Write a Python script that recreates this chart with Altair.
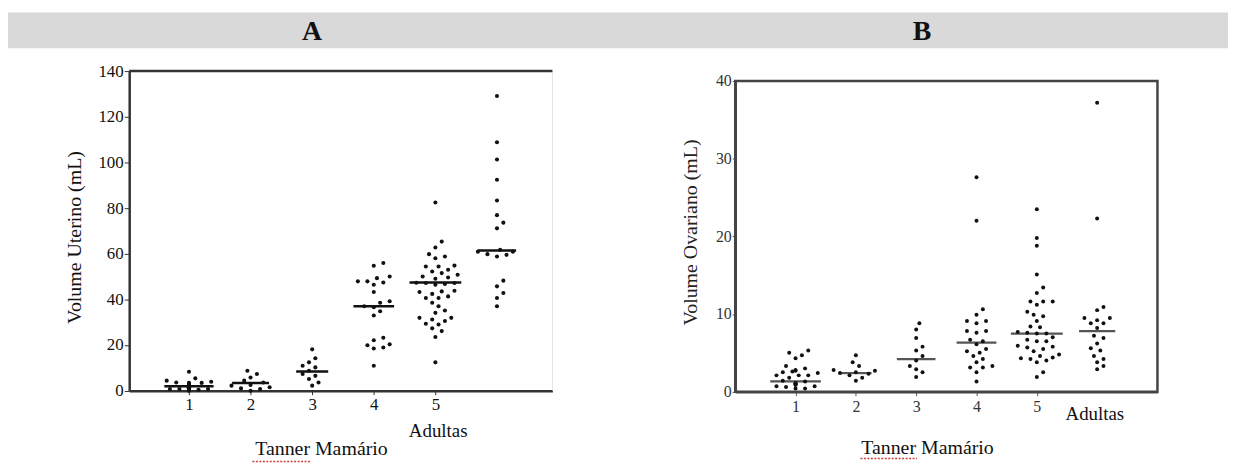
import altair as alt
import pandas as pd

# ---------------- data ----------------
groups = [1, 2, 3, 4, 5, 6]          # 6 = "Adultas"
tick_labels = ["1", "2", "3", "4", "5"]

uterino_g1 = [8.3, 5.4, 4.4, 3.6, 3.9, 3.4, 2.9, 3.4, 2.9, 2.5, 2.2, 2.2, 1.5, 1.0, 1.0, 1.5, 0.7, 0.4, 0.7, 0.7, 1.0, 0.0]
uterino_g2 = [8.7, 7.3, 5.8, 4.4, 3.6, 2.5, 2.2, 1.5, 0.7, 0.0, 1.0]
uterino_g3 = [18.1, 14.2, 12.4, 10.9, 10.2, 8.7, 7.3, 6.5, 5.1, 3.6, 2.2]
uterino_g4 = [55.9, 54.7, 47.4, 47.9, 49.3, 46.4, 50.0, 47.9, 43.2, 38.5, 39.2, 37.0, 36.6, 34.8,
              32.9, 22.1, 23.2, 20.3, 18.5, 18.9, 19.9, 10.9]
uterino_g5 = [82.4, 65.3, 62.7, 59.8, 58.0, 58.8, 53.0, 54.4, 54.8, 54.4, 52.2, 51.5, 49.6, 49.0,
              50.0, 50.8, 47.2, 46.7, 47.2, 47.3, 46.4, 43.8, 43.5, 43.2, 42.4, 41.3, 40.6, 40.6,
              38.5, 37.0, 35.1, 34.1, 31.9, 31.9, 31.2, 30.5, 29.3, 29.0, 26.1, 27.3, 23.5, 12.4]
uterino_g6 = [129.1, 108.8, 101.3, 92.4, 83.3, 76.9, 73.6, 71.1, 61.7, 60.9, 60.9, 59.8, 58.8,
              59.5, 48.2, 45.7, 42.8, 40.6, 37.0]
uterino_median = [1.9, 3.4, 8.4, 37.0, 47.4, 61.4]

ovariano_g1 = [5.0, 5.3, 4.7, 4.3, 3.3, 2.8, 3.0, 2.7, 2.5, 2.6, 2.4, 2.1, 2.1, 1.8, 2.1, 1.4,
               1.3, 1.1, 1.0, 0.9, 0.9, 0.7, 0.6, 0.7, 0.4, 0.4, 1.1]
ovariano_g2 = [4.7, 3.8, 3.3, 2.8, 2.7, 2.5, 2.4, 2.1, 1.8, 1.4, 2.3]
ovariano_g3 = [8.8, 8.0, 6.9, 5.8, 5.3, 4.6, 4.0, 3.3, 2.9, 2.5, 1.9]
ovariano_g4 = [27.6, 22.0, 10.6, 9.9, 9.1, 9.1, 8.8, 7.6, 7.8, 7.8, 6.7, 6.5, 6.1, 5.5, 5.2,
               5.0, 4.6, 4.2, 3.8, 3.3, 3.1, 3.1, 2.5, 1.3]
ovariano_g5 = [23.5, 19.8, 18.8, 15.1, 13.4, 12.7, 11.6, 11.6, 11.6, 11.2, 9.7, 10.3, 9.9, 9.1,
               8.3, 8.4, 7.6, 7.5, 7.5, 7.7, 7.0, 6.7, 6.5, 6.5, 5.8, 5.5, 5.2, 5.9, 5.7, 4.6,
               4.8, 4.4, 3.8, 4.0, 4.2, 2.5, 1.9, 4.3]
ovariano_g6 = [37.2, 22.3, 10.9, 10.5, 9.5, 9.5, 9.2, 8.8, 8.8, 8.2, 7.2, 6.9, 6.2, 5.6, 5.3,
               4.6, 4.2, 3.8, 3.3, 2.9]
ovariano_median = [1.33, 2.39, 4.18, 6.32, 7.47, 7.8]

# ---------------- layout / style ----------------
W, H = 1228, 455
FONT = "Liberation Serif"

A_xdom, A_xrange = [0.03, 6.9], [122, 548]
A_ydom, A_yrange = [0, 140], [383.7, 62]
B_xdom, B_xrange = [0, 7], [732, 1157]
B_ydom, B_yrange = [0, 40], [384.7, 72]

A_half = [0.40, 0.30, 0.26, 0.33, 0.42, 0.31]   # half-width of median bars
B_half = [0.42, 0.26, 0.32, 0.33, 0.43, 0.30]


def px_per_unit(dom, rng):
    return abs(rng[1] - rng[0]) / (dom[1] - dom[0])


def swarm(values, ypx, d=7.0, step=3.2, maxoff=24.0):
    """deterministic beeswarm offsets (pixels)"""
    placed, offs = [], [0.0] * len(values)
    for k in sorted(range(len(values)), key=lambda i: values[i]):
        y = values[k] * ypx
        n = 0
        while True:
            cand = 0.0 if n == 0 else ((n + 1) // 2) * step * (1 if n % 2 else -1)
            if abs(cand) > maxoff:
                cand = 0.0
                break
            if all((cand - px) ** 2 + (y - py) ** 2 >= d * d for px, py in placed):
                break
            n += 1
        placed.append((cand, y))
        offs[k] = cand
    return offs


def build_points(series, xdom, xrng, ydom, yrng):
    xpx, ypx = px_per_unit(xdom, xrng), px_per_unit(ydom, yrng)
    rows = []
    for g, vals in zip(groups, series):
        for v, o in zip(vals, swarm(vals, ypx)):
            rows.append({"x": g + o / xpx, "y": v})
    return pd.DataFrame(rows)


def build_medians(meds, half):
    return pd.DataFrame({"x": [g - h for g, h in zip(groups, half)],
                         "x2": [g + h for g, h in zip(groups, half)],
                         "y": meds})


ptsA = build_points([uterino_g1, uterino_g2, uterino_g3, uterino_g4, uterino_g5, uterino_g6],
                    A_xdom, A_xrange, A_ydom, A_yrange)
ptsB = build_points([ovariano_g1, ovariano_g2, ovariano_g3, ovariano_g4, ovariano_g5, ovariano_g6],
                    B_xdom, B_xrange, B_ydom, B_yrange)
medA = build_medians(uterino_median, A_half)
medB = build_medians(ovariano_median, B_half)

# ---------------- panel A ----------------
xA = alt.X("x:Q", scale=alt.Scale(domain=A_xdom, range=A_xrange, nice=False, zero=False),
           axis=alt.Axis(orient="bottom", offset=A_yrange[0] - H, values=[1, 2, 3, 4, 5],
                         format="d", tickSize=4, labelPadding=2, grid=False,
                         domainColor="#333", domainWidth=2.5, tickColor="#333",
                         labelFont=FONT, labelFontSize=17, labelColor="#111",
                         title="Tanner Mamário", titleX=315, titleY=58, titleAlign="center",
                         titleBaseline="middle", titleFont=FONT, titleFontSize=20,
                         titleColor="#111"))
yA = alt.Y("y:Q", scale=alt.Scale(domain=A_ydom, range=A_yrange, nice=False),
           axis=alt.Axis(orient="left", offset=-A_xrange[0], values=list(range(0, 141, 20)),
                         tickSize=5, labelPadding=1, grid=False,
                         domainColor="#333", domainWidth=2.5, tickColor="#333",
                         labelFont=FONT, labelFontSize=17, labelColor="#111",
                         title="Volume Uterino (mL)", titleX=-55, titleY=229, titleAngle=270,
                         titleAlign="center", titleBaseline="middle", titleFont=FONT,
                         titleFontSize=20, titleColor="#111"))

frameA = pd.DataFrame({"x": [A_xdom[0]], "x2": [A_xdom[1]], "y": [A_ydom[1]]})
frameA_r = pd.DataFrame({"x": [A_xdom[1]], "y": [A_ydom[0]], "y2": [A_ydom[1]]})

A_top = alt.Chart(frameA).mark_rule(color="#333", strokeWidth=2.5).encode(x=xA, x2="x2:Q", y=yA)
A_right = alt.Chart(frameA_r).mark_rule(color="#e4e4e4", strokeWidth=1).encode(x=xA, y=yA, y2="y2:Q")
A_pts = alt.Chart(ptsA).mark_circle(color="#111", size=17, opacity=1).encode(x=xA, y=yA)
A_med = alt.Chart(medA).mark_rule(color="#111", strokeWidth=2.5).encode(x=xA, x2="x2:Q", y=yA)
panelA = alt.layer(A_right, A_top, A_med, A_pts)

# ---------------- panel B ----------------
xB = alt.X("x:Q", scale=alt.Scale(domain=B_xdom, range=B_xrange, nice=False, zero=False),
           axis=alt.Axis(orient="bottom", offset=B_yrange[0] - H, values=[1, 2, 3, 4, 5],
                         format="d", tickSize=4, labelPadding=3, grid=False,
                         domainColor="#444", domainWidth=2.5, tickColor="#555",
                         labelFont=FONT, labelFontSize=16, labelColor="#333",
                         title="Tanner Mamário", titleX=925, titleY=56, titleAlign="center",
                         titleBaseline="middle", titleFont=FONT, titleFontSize=20,
                         titleColor="#111"))
yB = alt.Y("y:Q", scale=alt.Scale(domain=B_ydom, range=B_yrange, nice=False),
           axis=alt.Axis(orient="left", offset=-B_xrange[0], values=[0, 10, 20, 30, 40],
                         tickSize=3, labelPadding=1, grid=False,
                         domainColor="#444", domainWidth=2.5, tickColor="#555",
                         labelFont=FONT, labelFontSize=16, labelColor="#333",
                         title="Volume Ovariano (mL)", titleX=-45, titleY=224, titleAngle=270,
                         titleAlign="center", titleBaseline="middle", titleFont=FONT,
                         titleFontSize=20, titleColor="#222"))

frameB = pd.DataFrame({"x": [B_xdom[0]], "x2": [B_xdom[1]], "y": [B_ydom[0]], "y2": [B_ydom[1]]})
B_box = alt.Chart(frameB).mark_rect(fillOpacity=0, stroke="#444", strokeWidth=2.5).encode(
    x=xB, x2="x2:Q", y=yB, y2="y2:Q")
B_pts = alt.Chart(ptsB).mark_circle(color="#111", size=16, opacity=1).encode(x=xB, y=yB)
B_med = alt.Chart(medB).mark_rule(color="#555", strokeWidth=2.2).encode(x=xB, x2="x2:Q", y=yB)
panelB = alt.layer(B_box, B_med, B_pts)

# ---------------- header & annotations ----------------
hdr = pd.DataFrame({"t": ["A"]})
header_bg = alt.Chart(hdr).mark_rect(color="#d9d9d9").encode(
    x=alt.value(0), x2=alt.value(W), y=alt.value(3), y2=alt.value(39))


def text_layer(txt, x, y, size, bold=False):
    return alt.Chart(pd.DataFrame({"t": [txt]})).mark_text(
        font=FONT, fontSize=size, fontWeight="bold" if bold else "normal",
        color="#111", align="center", baseline="middle").encode(
        x=alt.value(x), y=alt.value(y), text="t:N")


def squiggle(x0, x1, y):
    return alt.Chart(pd.DataFrame({"t": [0]})).mark_rule(
        color="#d23c3c", strokeWidth=1.6, strokeDash=[2, 1.5]).encode(
        x=alt.value(x0), x2=alt.value(x1), y=alt.value(y))


chart = alt.layer(
    header_bg,
    text_layer("A", 306, 23, 28, bold=True),
    text_layer("B", 920, 23, 28, bold=True),
    panelA,
    panelB,
    text_layer("Adultas", 433, 424, 19),
    text_layer("Adultas", 1094, 407, 19),
    squiggle(246, 304, 455),
    squiggle(858, 915, 452),
).resolve_scale(x="independent", y="independent").properties(
    width=W, height=H, padding=0, autosize=alt.AutoSizeParams(type="none")
).configure(
    font=FONT,
    view=alt.ViewConfig(strokeWidth=0),
    axis=alt.AxisConfig(labelFont=FONT, titleFont=FONT, titleFontWeight="normal"),
    style={"guide-label": {"font": FONT}, "guide-title": {"font": FONT, "fontWeight": "normal"}},
)

chart.save("out.html", embed_options={"renderer": "svg", "actions": False})
